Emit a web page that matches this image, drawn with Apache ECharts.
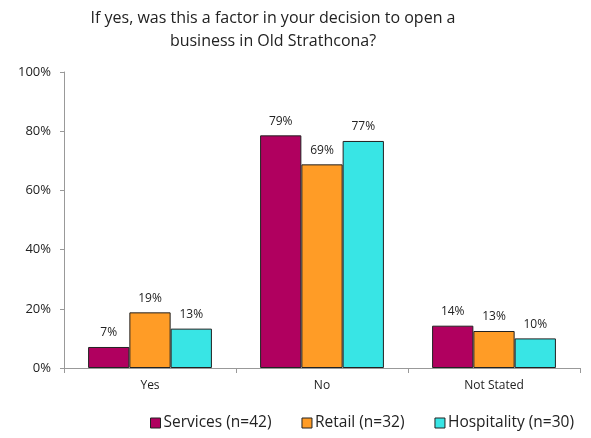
<!DOCTYPE html>
<html><head><meta charset="utf-8">
<script src="https://cdn.jsdelivr.net/npm/echarts@6/dist/echarts.min.js"></script>
<style>html,body{margin:0;padding:0;background:#fff}#c{width:591px;height:438px}</style>
</head><body><div id="c"></div>
<script>
const categories = ['Yes', 'No', 'Not Stated'];
const seriesNames = ['Services (n=42)', 'Retail (n=32)', 'Hospitality (n=30)'];
const services = [7.1, 78.6, 14.3];
const retail = [18.8, 68.8, 12.5];
const hospitality = [13.3, 76.7, 10.0];
const yTicks = [0, 20, 40, 60, 80, 100];
const colors = ['#B0005F', '#FF9C26', '#38E5E5'];
const font = 'Open Sans, Lato, sans-serif';
const chart = echarts.init(document.getElementById('c'));
const mk = (name, data, i) => ({
  name, type: 'bar', data,
  barGap: '0%', barCategoryGap: '28%',
  itemStyle: { color: colors[i], borderColor: '#222', borderWidth: 1 },
  label: { show: true, position: 'top', distance: 8, fontFamily: font, fontSize: 12, color: '#222',
    formatter: p => Math.round(p.value) + '%' }
});
chart.setOption({
  animation: false,
  title: { text: 'If yes, was this a factor in your decision to open a\nbusiness in Old Strathcona?',
    left: 268, textAlign: 'center', top: 2,
    textStyle: { fontFamily: font, fontSize: 16, fontWeight: 'normal', color: '#222', lineHeight: 23 } },
  legend: { bottom: 2, left: 145, itemWidth: 10, itemHeight: 10, itemGap: 30, icon: 'rect',
    data: seriesNames.map((n, i) => ({ name: n, itemStyle: { color: colors[i], borderColor: '#222', borderWidth: 1 } })),
    textStyle: { fontFamily: font, fontSize: 15.5, color: '#222', padding: [0, 0, 0, -2] } },
  grid: { left: 64, right: 11, top: 72, bottom: 70 },
  xAxis: { type: 'category', data: categories,
    axisLine: { lineStyle: { color: '#999' } },
    axisTick: { show: true, length: 5, lineStyle: { color: '#999' } },
    axisLabel: { fontFamily: font, fontSize: 12, color: '#222', margin: 12 } },
  yAxis: { type: 'value', min: 0, max: 100, interval: 20,
    axisLine: { show: true, lineStyle: { color: '#999' } },
    axisTick: { show: true, length: 4, lineStyle: { color: '#999' } },
    splitLine: { show: false },
    axisLabel: { fontFamily: font, fontSize: 13, color: '#222', margin: 13,
      formatter: v => yTicks.includes(v) ? v + '%' : '' } },
  series: [mk(seriesNames[0], services, 0), mk(seriesNames[1], retail, 1), mk(seriesNames[2], hospitality, 2)]
});
</script></body></html>
